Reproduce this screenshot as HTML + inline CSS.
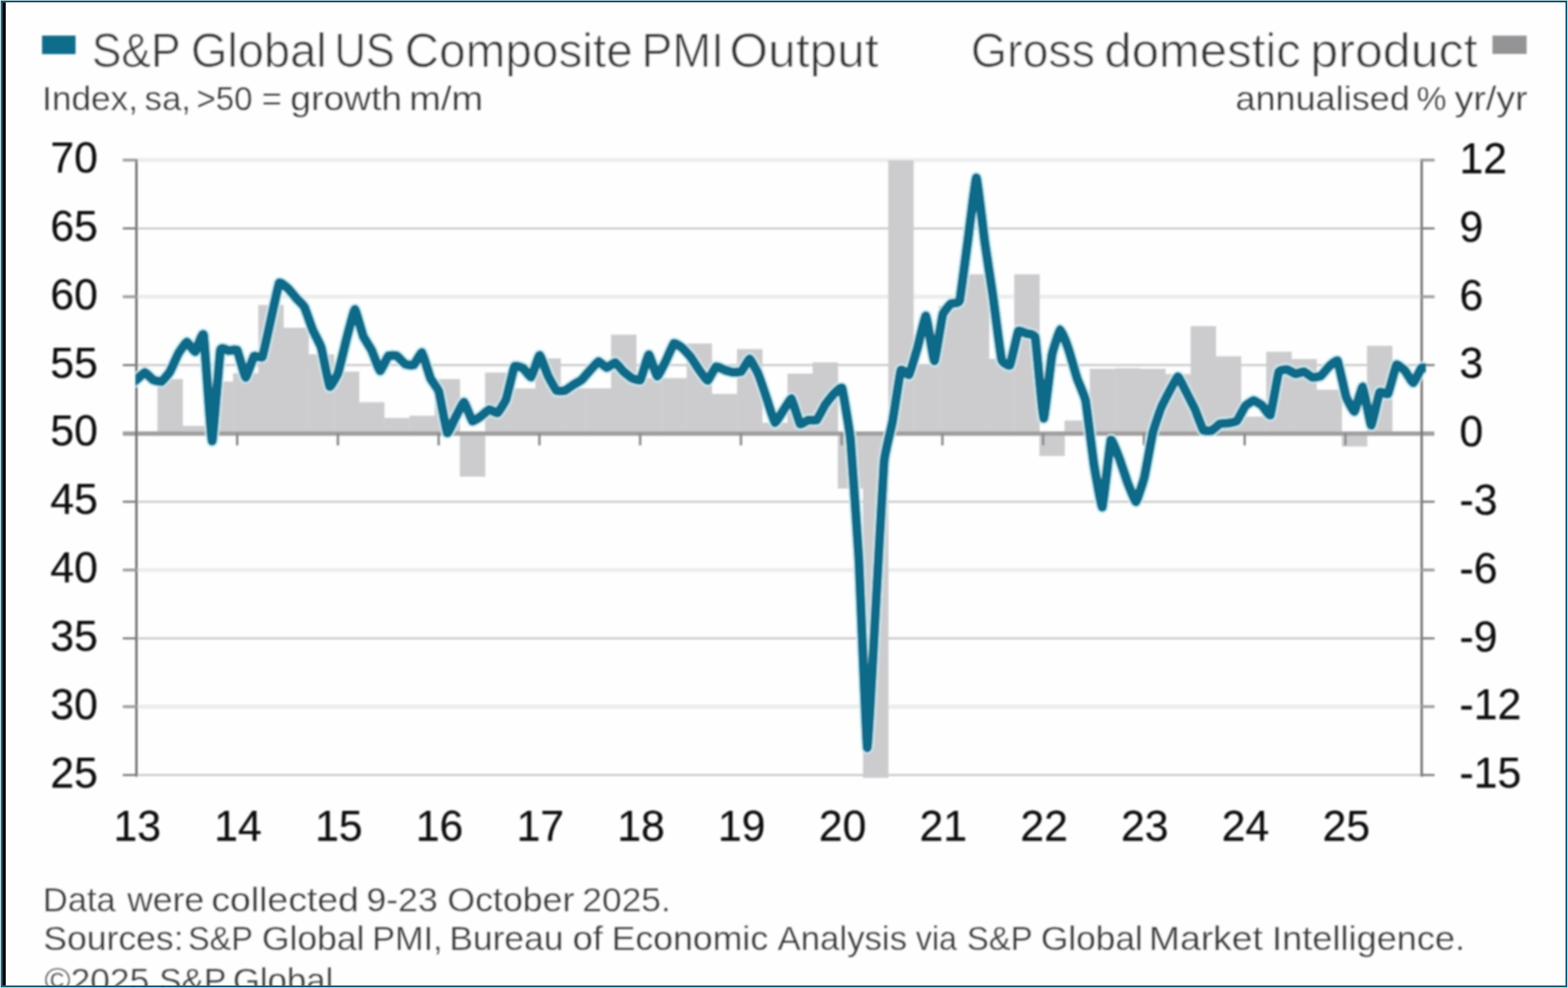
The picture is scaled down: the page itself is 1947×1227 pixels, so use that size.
<!DOCTYPE html>
<html lang="en"><head><meta charset="utf-8"><title>S&amp;P Global US Composite PMI Output</title>
<style>
html,body{margin:0;padding:0;background:#fff;}
body{width:1947px;height:1227px;overflow:hidden;}
svg{display:block;}
text{font-family:"Liberation Sans",Arial,Helvetica,sans-serif;}
.t1{font-size:56px;fill:#303030;stroke:#fefefe;stroke-width:0.7px;}
.t2{font-size:40.5px;fill:#303030;stroke:#fefefe;stroke-width:0.3px;}
.ax{font-size:53px;fill:#101010;stroke:#101010;stroke-width:0.25px;}
</style></head><body>
<svg width="1947" height="1227" viewBox="0 0 1947 1227">
<defs><filter id="b" x="-2%" y="-2%" width="104%" height="104%"><feGaussianBlur stdDeviation="0.9"/></filter><filter id="b2" x="0" y="0" width="100%" height="100%"><feGaussianBlur stdDeviation="0.45"/></filter></defs>
<rect x="0" y="0" width="1947" height="1227" fill="#fff"/>
<g filter="url(#b2)">
<rect x="0" y="0" width="1947" height="1227" fill="#cfeef5"/>
<rect x="1.1" y="0.9" width="1944.9" height="1225.3" fill="#245e7a"/>
<rect x="1.1" y="0.9" width="1944.9" height="2.0" fill="#1b4b64"/>
<rect x="3.1" y="2.9" width="1940.7" height="1221" fill="#fefefe"/>
<rect x="3.1" y="2.9" width="4.1" height="1221" fill="#00040a"/>
</g>
<g filter="url(#b)">
<rect x="52.2" y="44.2" width="41.6" height="23.0" fill="#096d8b"/>
<rect x="1853.2" y="44.2" width="42.4" height="22.8" fill="#949496"/>
<rect x="169.4" y="196.3" width="1595.9" height="5" fill="#ededed"/>
<rect x="169.4" y="282.4" width="1595.9" height="2.6" fill="#cacaca"/>
<rect x="169.4" y="366.0" width="1595.9" height="5" fill="#ededed"/>
<rect x="169.4" y="452.1" width="1595.9" height="2.6" fill="#cacaca"/>
<rect x="169.4" y="621.8" width="1595.9" height="2.6" fill="#cacaca"/>
<rect x="169.4" y="705.4" width="1595.9" height="5" fill="#ededed"/>
<rect x="169.4" y="791.5" width="1595.9" height="2.6" fill="#cacaca"/>
<rect x="169.4" y="875.1" width="1595.9" height="5" fill="#ededed"/>
<rect x="169.4" y="961.2" width="1595.9" height="2.6" fill="#cacaca"/>
<g fill="#cccccf">
<rect x="195.5" y="470.7" width="31.6" height="67.5"/>
<rect x="226.8" y="528.9" width="31.6" height="9.3"/>
<rect x="258.1" y="473.8" width="31.6" height="64.4"/>
<rect x="289.4" y="463.5" width="31.6" height="74.7"/>
<rect x="320.7" y="378.7" width="31.6" height="159.5"/>
<rect x="351.9" y="407.0" width="31.6" height="131.2"/>
<rect x="383.2" y="440.0" width="31.6" height="98.2"/>
<rect x="414.5" y="461.5" width="31.6" height="76.7"/>
<rect x="445.8" y="499.5" width="31.6" height="38.7"/>
<rect x="477.1" y="519.0" width="31.6" height="19.2"/>
<rect x="508.4" y="516.3" width="31.6" height="21.9"/>
<rect x="539.7" y="470.7" width="31.6" height="67.5"/>
<rect x="571.0" y="538.2" width="31.6" height="53.8"/>
<rect x="602.3" y="462.7" width="31.6" height="75.5"/>
<rect x="633.6" y="482.4" width="31.6" height="55.8"/>
<rect x="664.8" y="445.0" width="31.6" height="93.2"/>
<rect x="696.1" y="482.2" width="31.6" height="56.0"/>
<rect x="727.4" y="482.2" width="31.6" height="56.0"/>
<rect x="758.7" y="415.6" width="31.6" height="122.6"/>
<rect x="790.0" y="469.5" width="31.6" height="68.7"/>
<rect x="821.3" y="469.5" width="31.6" height="68.7"/>
<rect x="852.6" y="426.6" width="31.6" height="111.6"/>
<rect x="883.9" y="489.2" width="31.6" height="49.0"/>
<rect x="915.2" y="433.5" width="31.6" height="104.7"/>
<rect x="946.5" y="525.0" width="31.6" height="13.2"/>
<rect x="977.8" y="464.0" width="31.6" height="74.2"/>
<rect x="1009.0" y="450.0" width="31.6" height="88.2"/>
<rect x="1040.3" y="538.2" width="31.6" height="68.5"/>
<rect x="1071.6" y="538.2" width="31.6" height="427.8"/>
<rect x="1102.9" y="199.0" width="31.6" height="339.2"/>
<rect x="1134.2" y="453.0" width="31.6" height="85.2"/>
<rect x="1165.5" y="380.0" width="31.6" height="158.2"/>
<rect x="1196.8" y="340.6" width="31.6" height="197.6"/>
<rect x="1228.1" y="445.6" width="31.6" height="92.6"/>
<rect x="1259.4" y="340.6" width="31.6" height="197.6"/>
<rect x="1290.6" y="538.2" width="31.6" height="28.1"/>
<rect x="1321.9" y="522.3" width="31.6" height="15.9"/>
<rect x="1353.2" y="458.0" width="31.6" height="80.2"/>
<rect x="1384.5" y="457.3" width="31.6" height="80.9"/>
<rect x="1415.8" y="458.0" width="31.6" height="80.2"/>
<rect x="1447.1" y="464.5" width="31.6" height="73.7"/>
<rect x="1478.4" y="405.0" width="31.6" height="133.2"/>
<rect x="1509.7" y="442.5" width="31.6" height="95.7"/>
<rect x="1541.0" y="517.4" width="31.6" height="20.8"/>
<rect x="1572.3" y="436.8" width="31.6" height="101.4"/>
<rect x="1603.5" y="445.8" width="31.6" height="92.4"/>
<rect x="1634.8" y="484.0" width="31.6" height="54.2"/>
<rect x="1666.1" y="538.2" width="31.6" height="16.3"/>
<rect x="1697.4" y="429.4" width="31.6" height="108.8"/>
</g>
<rect x="152.5" y="535.8" width="1628.5" height="5.4" fill="#a09e9e"/>
<rect x="293.0" y="538.2" width="3" height="15" fill="#8a8a8a"/>
<rect x="418.1" y="538.2" width="3" height="15" fill="#8a8a8a"/>
<rect x="543.2" y="538.2" width="3" height="15" fill="#8a8a8a"/>
<rect x="668.3" y="538.2" width="3" height="15" fill="#8a8a8a"/>
<rect x="793.4" y="538.2" width="3" height="15" fill="#8a8a8a"/>
<rect x="918.5" y="538.2" width="3" height="15" fill="#8a8a8a"/>
<rect x="1043.6" y="538.2" width="3" height="15" fill="#8a8a8a"/>
<rect x="1168.7" y="538.2" width="3" height="15" fill="#8a8a8a"/>
<rect x="1293.8" y="538.2" width="3" height="15" fill="#8a8a8a"/>
<rect x="1418.9" y="538.2" width="3" height="15" fill="#8a8a8a"/>
<rect x="1544.0" y="538.2" width="3" height="15" fill="#8a8a8a"/>
<rect x="1669.1" y="538.2" width="3" height="15" fill="#8a8a8a"/>
<rect x="167.9" y="197.5" width="3" height="767.0" fill="#727272"/>
<rect x="1763.8" y="197.5" width="3" height="767.0" fill="#767676"/>
<rect x="152.5" y="197.0" width="17" height="3.6" fill="#a0a0a0"/>
<rect x="1765.3" y="197.0" width="16" height="3.6" fill="#a0a0a0"/>
<rect x="152.5" y="282.4" width="17" height="2.6" fill="#7c7c7c"/>
<rect x="1765.3" y="282.4" width="16" height="2.6" fill="#7c7c7c"/>
<rect x="152.5" y="366.7" width="17" height="3.6" fill="#a0a0a0"/>
<rect x="1765.3" y="366.7" width="16" height="3.6" fill="#a0a0a0"/>
<rect x="152.5" y="452.1" width="17" height="2.6" fill="#7c7c7c"/>
<rect x="1765.3" y="452.1" width="16" height="2.6" fill="#7c7c7c"/>
<rect x="152.5" y="621.8" width="17" height="2.6" fill="#7c7c7c"/>
<rect x="1765.3" y="621.8" width="16" height="2.6" fill="#7c7c7c"/>
<rect x="152.5" y="706.1" width="17" height="3.6" fill="#a0a0a0"/>
<rect x="1765.3" y="706.1" width="16" height="3.6" fill="#a0a0a0"/>
<rect x="152.5" y="791.5" width="17" height="2.6" fill="#7c7c7c"/>
<rect x="1765.3" y="791.5" width="16" height="2.6" fill="#7c7c7c"/>
<rect x="152.5" y="875.8" width="17" height="3.6" fill="#a0a0a0"/>
<rect x="1765.3" y="875.8" width="16" height="3.6" fill="#a0a0a0"/>
<rect x="152.5" y="961.2" width="17" height="2.6" fill="#7c7c7c"/>
<rect x="1765.3" y="961.2" width="16" height="2.6" fill="#7c7c7c"/>
<clipPath id="lc"><rect x="168.2" y="150" width="1602.3" height="850"/></clipPath>
<path clip-path="url(#lc)" d="M163.4 475.8 C163.7 475.6 168.6 472.5 169.4 471.8 C170.2 471.1 178.8 462.5 179.8 462.5 C180.9 462.5 189.2 471.2 190.3 471.8 C191.3 472.4 199.6 474.3 200.7 473.8 C201.7 473.3 210.1 463.2 211.1 461.5 C212.2 459.8 220.5 440.7 221.6 438.9 C222.6 437.1 230.9 424.9 232.0 424.8 C233.0 424.7 241.4 437.2 242.4 436.8 C243.5 436.4 251.8 410.4 252.8 416.0 C253.9 421.6 262.2 546.8 263.3 547.8 C264.3 548.8 272.7 440.6 273.7 435.0 C274.7 429.4 283.1 435.6 284.1 435.6 C285.2 435.6 293.5 433.4 294.6 435.0 C295.6 436.6 303.9 468.2 305.0 468.6 C306.0 469.0 314.4 443.8 315.4 442.5 C316.5 441.2 324.8 445.3 325.9 443.0 C326.9 440.7 335.2 401.6 336.3 397.0 C337.3 392.4 345.7 353.6 346.7 351.6 C347.8 349.6 356.1 356.8 357.1 357.7 C358.2 358.6 366.5 368.8 367.6 370.0 C368.6 371.2 377.0 379.4 378.0 381.4 C379.0 383.4 387.4 407.5 388.4 410.0 C389.5 412.5 397.8 428.2 398.9 431.7 C399.9 435.2 408.2 478.4 409.3 480.0 C410.3 481.6 418.7 466.4 419.7 463.5 C420.8 460.6 429.1 425.5 430.1 421.5 C431.2 417.5 439.5 384.5 440.6 384.3 C441.6 384.1 450.0 415.0 451.0 417.5 C452.1 420.0 460.4 432.7 461.4 434.8 C462.5 436.9 470.8 460.1 471.9 460.5 C472.9 460.9 481.3 442.9 482.3 442.0 C483.3 441.1 491.7 441.5 492.7 442.0 C493.8 442.5 502.1 451.6 503.2 452.2 C504.2 452.8 512.5 454.0 513.6 453.3 C514.6 452.6 523.0 437.1 524.0 437.9 C525.1 438.7 533.4 467.3 534.5 469.7 C535.5 472.1 543.8 482.6 544.9 486.0 C545.9 489.4 554.3 535.9 555.3 537.5 C556.4 539.1 564.7 519.9 565.7 518.0 C566.8 516.1 575.1 499.2 576.2 499.5 C577.2 499.8 585.6 522.1 586.6 523.0 C587.6 523.9 596.0 517.7 597.0 517.0 C598.1 516.3 606.4 508.9 607.5 508.7 C608.5 508.5 616.8 513.4 617.9 512.8 C618.9 512.2 627.3 499.1 628.3 496.2 C629.4 493.3 637.7 457.3 638.8 455.3 C639.8 453.3 648.1 456.4 649.2 457.0 C650.2 457.6 658.6 469.0 659.6 468.2 C660.7 467.4 669.0 441.4 670.0 441.3 C671.1 441.2 679.4 464.4 680.5 466.6 C681.5 468.8 689.9 484.2 690.9 485.1 C691.9 486.0 700.3 485.5 701.3 485.1 C702.4 484.7 710.7 478.7 711.8 478.0 C712.8 477.3 721.1 472.7 722.2 471.8 C723.2 470.9 731.6 461.1 732.6 460.0 C733.7 458.9 742.0 449.2 743.0 449.0 C744.1 448.8 752.4 456.5 753.5 456.6 C754.5 456.7 762.9 450.0 763.9 450.2 C765.0 450.4 773.3 460.5 774.3 461.5 C775.4 462.5 783.7 469.2 784.8 469.7 C785.8 470.2 794.2 473.3 795.2 471.8 C796.2 470.3 804.6 440.7 805.6 440.5 C806.7 440.3 815.0 466.9 816.1 467.3 C817.1 467.7 825.4 450.9 826.5 448.8 C827.5 446.8 835.9 427.1 836.9 426.3 C838.0 425.5 846.3 431.3 847.3 432.2 C848.4 433.1 856.7 442.1 857.8 443.5 C858.8 444.9 867.2 458.0 868.2 459.5 C869.3 461.0 877.6 472.8 878.6 472.6 C879.7 472.4 888.0 456.0 889.1 455.3 C890.1 454.6 898.5 459.0 899.5 459.4 C900.5 459.8 908.9 462.2 909.9 462.3 C911.0 462.4 919.3 462.3 920.4 461.5 C921.4 460.7 929.7 445.7 930.8 445.8 C931.8 445.9 940.2 461.6 941.2 464.0 C942.3 466.4 950.6 490.6 951.6 493.6 C952.7 496.6 961.0 524.1 962.1 524.9 C963.1 525.7 971.5 511.5 972.5 510.0 C973.6 508.5 981.9 494.4 982.9 495.2 C984.0 496.0 992.3 525.2 993.4 526.5 C994.4 527.8 1002.8 521.8 1003.8 521.6 C1004.8 521.4 1013.2 522.6 1014.2 521.6 C1015.3 520.6 1023.6 504.2 1024.7 502.6 C1025.7 501.0 1034.0 490.5 1035.1 489.5 C1036.1 488.5 1044.5 479.4 1045.5 482.2 C1046.6 485.0 1054.9 534.5 1056.0 545.0 C1057.0 555.5 1065.3 673.5 1066.4 692.6 C1067.4 711.8 1075.8 925.2 1076.8 928.5 C1077.9 931.8 1086.2 776.5 1087.2 758.8 C1088.3 741.1 1096.6 585.5 1097.7 573.8 C1098.7 562.1 1107.1 530.3 1108.1 524.6 C1109.1 518.9 1117.5 463.1 1118.5 460.1 C1119.6 457.2 1127.9 466.7 1129.0 465.2 C1130.0 463.8 1138.3 434.9 1139.4 431.3 C1140.4 427.6 1148.8 391.4 1149.8 392.3 C1150.9 393.1 1159.2 448.3 1160.2 448.3 C1161.3 448.2 1169.6 394.1 1170.7 390.6 C1171.7 387.0 1180.1 377.8 1181.1 377.0 C1182.2 376.1 1190.5 377.6 1191.5 373.6 C1192.6 369.6 1200.9 304.9 1202.0 297.2 C1203.0 289.6 1211.4 220.7 1212.4 220.9 C1213.4 221.0 1221.8 293.2 1222.8 300.6 C1223.9 308.1 1232.2 362.9 1233.3 370.2 C1234.3 377.5 1242.6 442.4 1243.7 446.6 C1244.7 450.7 1253.1 455.1 1254.1 453.4 C1255.2 451.6 1263.5 413.4 1264.5 411.4 C1265.6 409.5 1273.9 413.9 1275.0 414.3 C1276.0 414.7 1284.4 414.1 1285.4 419.4 C1286.5 424.7 1294.8 518.5 1295.8 519.5 C1296.9 520.6 1305.2 446.1 1306.3 440.6 C1307.3 435.1 1315.7 409.5 1316.7 409.2 C1317.7 408.9 1326.1 431.6 1327.1 434.7 C1328.2 437.7 1336.5 467.2 1337.6 470.3 C1338.6 473.5 1346.9 492.1 1348.0 497.5 C1349.0 502.8 1357.4 570.6 1358.4 577.2 C1359.5 583.8 1367.8 631.4 1368.9 629.8 C1369.9 628.3 1378.2 549.7 1379.3 546.7 C1380.3 543.6 1388.7 566.1 1389.7 568.7 C1390.8 571.4 1399.1 596.6 1400.1 599.3 C1401.2 602.0 1409.5 623.4 1410.6 623.1 C1411.6 622.7 1420.0 596.8 1421.0 592.5 C1422.0 588.2 1430.4 541.7 1431.4 537.4 C1432.5 533.0 1440.8 508.5 1441.9 506.0 C1442.9 503.4 1451.2 487.5 1452.3 485.6 C1453.3 483.7 1461.7 467.7 1462.7 467.8 C1463.8 467.9 1472.1 485.3 1473.2 487.3 C1474.2 489.3 1482.5 505.3 1483.6 507.7 C1484.6 510.0 1493.0 532.6 1494.0 534.0 C1495.1 535.3 1503.4 535.2 1504.4 534.8 C1505.5 534.4 1513.8 526.8 1514.9 526.3 C1515.9 525.9 1524.3 525.6 1525.3 525.5 C1526.3 525.3 1534.7 524.0 1535.7 522.9 C1536.8 521.9 1545.1 505.5 1546.2 504.3 C1547.2 503.0 1555.5 497.5 1556.6 497.5 C1557.6 497.4 1566.0 502.5 1567.0 503.4 C1568.1 504.3 1576.4 517.4 1577.5 515.3 C1578.5 513.2 1586.8 464.7 1587.9 461.8 C1588.9 459.0 1597.3 458.8 1598.3 459.0 C1599.4 459.1 1607.7 464.3 1608.7 464.4 C1609.8 464.5 1618.1 461.3 1619.2 461.5 C1620.2 461.7 1628.6 468.4 1629.6 468.6 C1630.6 468.9 1639.0 467.6 1640.0 466.9 C1641.1 466.2 1649.4 456.0 1650.5 455.0 C1651.5 454.1 1659.8 446.4 1660.9 448.3 C1661.9 450.1 1670.3 489.2 1671.3 492.4 C1672.4 495.5 1680.7 511.6 1681.8 511.0 C1682.8 510.5 1691.1 479.7 1692.2 480.5 C1693.2 481.4 1701.6 527.7 1702.6 528.0 C1703.7 528.4 1712.0 489.2 1713.0 487.3 C1714.1 485.3 1722.4 490.7 1723.5 489.0 C1724.5 487.3 1732.9 454.8 1733.9 453.4 C1734.9 451.9 1743.3 459.0 1744.3 460.1 C1745.4 461.2 1753.7 475.6 1754.8 475.4 C1755.8 475.2 1764.3 457.7 1765.2 456.7 C1766.1 455.8 1772.8 457.2 1773.2 457.2" fill="none" stroke="#c9f3fb" stroke-opacity="0.85" stroke-width="15.6" stroke-linejoin="round" stroke-linecap="butt"/>
<path clip-path="url(#lc)" d="M163.4 475.8 C163.7 475.6 168.6 472.5 169.4 471.8 C170.2 471.1 178.8 462.5 179.8 462.5 C180.9 462.5 189.2 471.2 190.3 471.8 C191.3 472.4 199.6 474.3 200.7 473.8 C201.7 473.3 210.1 463.2 211.1 461.5 C212.2 459.8 220.5 440.7 221.6 438.9 C222.6 437.1 230.9 424.9 232.0 424.8 C233.0 424.7 241.4 437.2 242.4 436.8 C243.5 436.4 251.8 410.4 252.8 416.0 C253.9 421.6 262.2 546.8 263.3 547.8 C264.3 548.8 272.7 440.6 273.7 435.0 C274.7 429.4 283.1 435.6 284.1 435.6 C285.2 435.6 293.5 433.4 294.6 435.0 C295.6 436.6 303.9 468.2 305.0 468.6 C306.0 469.0 314.4 443.8 315.4 442.5 C316.5 441.2 324.8 445.3 325.9 443.0 C326.9 440.7 335.2 401.6 336.3 397.0 C337.3 392.4 345.7 353.6 346.7 351.6 C347.8 349.6 356.1 356.8 357.1 357.7 C358.2 358.6 366.5 368.8 367.6 370.0 C368.6 371.2 377.0 379.4 378.0 381.4 C379.0 383.4 387.4 407.5 388.4 410.0 C389.5 412.5 397.8 428.2 398.9 431.7 C399.9 435.2 408.2 478.4 409.3 480.0 C410.3 481.6 418.7 466.4 419.7 463.5 C420.8 460.6 429.1 425.5 430.1 421.5 C431.2 417.5 439.5 384.5 440.6 384.3 C441.6 384.1 450.0 415.0 451.0 417.5 C452.1 420.0 460.4 432.7 461.4 434.8 C462.5 436.9 470.8 460.1 471.9 460.5 C472.9 460.9 481.3 442.9 482.3 442.0 C483.3 441.1 491.7 441.5 492.7 442.0 C493.8 442.5 502.1 451.6 503.2 452.2 C504.2 452.8 512.5 454.0 513.6 453.3 C514.6 452.6 523.0 437.1 524.0 437.9 C525.1 438.7 533.4 467.3 534.5 469.7 C535.5 472.1 543.8 482.6 544.9 486.0 C545.9 489.4 554.3 535.9 555.3 537.5 C556.4 539.1 564.7 519.9 565.7 518.0 C566.8 516.1 575.1 499.2 576.2 499.5 C577.2 499.8 585.6 522.1 586.6 523.0 C587.6 523.9 596.0 517.7 597.0 517.0 C598.1 516.3 606.4 508.9 607.5 508.7 C608.5 508.5 616.8 513.4 617.9 512.8 C618.9 512.2 627.3 499.1 628.3 496.2 C629.4 493.3 637.7 457.3 638.8 455.3 C639.8 453.3 648.1 456.4 649.2 457.0 C650.2 457.6 658.6 469.0 659.6 468.2 C660.7 467.4 669.0 441.4 670.0 441.3 C671.1 441.2 679.4 464.4 680.5 466.6 C681.5 468.8 689.9 484.2 690.9 485.1 C691.9 486.0 700.3 485.5 701.3 485.1 C702.4 484.7 710.7 478.7 711.8 478.0 C712.8 477.3 721.1 472.7 722.2 471.8 C723.2 470.9 731.6 461.1 732.6 460.0 C733.7 458.9 742.0 449.2 743.0 449.0 C744.1 448.8 752.4 456.5 753.5 456.6 C754.5 456.7 762.9 450.0 763.9 450.2 C765.0 450.4 773.3 460.5 774.3 461.5 C775.4 462.5 783.7 469.2 784.8 469.7 C785.8 470.2 794.2 473.3 795.2 471.8 C796.2 470.3 804.6 440.7 805.6 440.5 C806.7 440.3 815.0 466.9 816.1 467.3 C817.1 467.7 825.4 450.9 826.5 448.8 C827.5 446.8 835.9 427.1 836.9 426.3 C838.0 425.5 846.3 431.3 847.3 432.2 C848.4 433.1 856.7 442.1 857.8 443.5 C858.8 444.9 867.2 458.0 868.2 459.5 C869.3 461.0 877.6 472.8 878.6 472.6 C879.7 472.4 888.0 456.0 889.1 455.3 C890.1 454.6 898.5 459.0 899.5 459.4 C900.5 459.8 908.9 462.2 909.9 462.3 C911.0 462.4 919.3 462.3 920.4 461.5 C921.4 460.7 929.7 445.7 930.8 445.8 C931.8 445.9 940.2 461.6 941.2 464.0 C942.3 466.4 950.6 490.6 951.6 493.6 C952.7 496.6 961.0 524.1 962.1 524.9 C963.1 525.7 971.5 511.5 972.5 510.0 C973.6 508.5 981.9 494.4 982.9 495.2 C984.0 496.0 992.3 525.2 993.4 526.5 C994.4 527.8 1002.8 521.8 1003.8 521.6 C1004.8 521.4 1013.2 522.6 1014.2 521.6 C1015.3 520.6 1023.6 504.2 1024.7 502.6 C1025.7 501.0 1034.0 490.5 1035.1 489.5 C1036.1 488.5 1044.5 479.4 1045.5 482.2 C1046.6 485.0 1054.9 534.5 1056.0 545.0 C1057.0 555.5 1065.3 673.5 1066.4 692.6 C1067.4 711.8 1075.8 925.2 1076.8 928.5 C1077.9 931.8 1086.2 776.5 1087.2 758.8 C1088.3 741.1 1096.6 585.5 1097.7 573.8 C1098.7 562.1 1107.1 530.3 1108.1 524.6 C1109.1 518.9 1117.5 463.1 1118.5 460.1 C1119.6 457.2 1127.9 466.7 1129.0 465.2 C1130.0 463.8 1138.3 434.9 1139.4 431.3 C1140.4 427.6 1148.8 391.4 1149.8 392.3 C1150.9 393.1 1159.2 448.3 1160.2 448.3 C1161.3 448.2 1169.6 394.1 1170.7 390.6 C1171.7 387.0 1180.1 377.8 1181.1 377.0 C1182.2 376.1 1190.5 377.6 1191.5 373.6 C1192.6 369.6 1200.9 304.9 1202.0 297.2 C1203.0 289.6 1211.4 220.7 1212.4 220.9 C1213.4 221.0 1221.8 293.2 1222.8 300.6 C1223.9 308.1 1232.2 362.9 1233.3 370.2 C1234.3 377.5 1242.6 442.4 1243.7 446.6 C1244.7 450.7 1253.1 455.1 1254.1 453.4 C1255.2 451.6 1263.5 413.4 1264.5 411.4 C1265.6 409.5 1273.9 413.9 1275.0 414.3 C1276.0 414.7 1284.4 414.1 1285.4 419.4 C1286.5 424.7 1294.8 518.5 1295.8 519.5 C1296.9 520.6 1305.2 446.1 1306.3 440.6 C1307.3 435.1 1315.7 409.5 1316.7 409.2 C1317.7 408.9 1326.1 431.6 1327.1 434.7 C1328.2 437.7 1336.5 467.2 1337.6 470.3 C1338.6 473.5 1346.9 492.1 1348.0 497.5 C1349.0 502.8 1357.4 570.6 1358.4 577.2 C1359.5 583.8 1367.8 631.4 1368.9 629.8 C1369.9 628.3 1378.2 549.7 1379.3 546.7 C1380.3 543.6 1388.7 566.1 1389.7 568.7 C1390.8 571.4 1399.1 596.6 1400.1 599.3 C1401.2 602.0 1409.5 623.4 1410.6 623.1 C1411.6 622.7 1420.0 596.8 1421.0 592.5 C1422.0 588.2 1430.4 541.7 1431.4 537.4 C1432.5 533.0 1440.8 508.5 1441.9 506.0 C1442.9 503.4 1451.2 487.5 1452.3 485.6 C1453.3 483.7 1461.7 467.7 1462.7 467.8 C1463.8 467.9 1472.1 485.3 1473.2 487.3 C1474.2 489.3 1482.5 505.3 1483.6 507.7 C1484.6 510.0 1493.0 532.6 1494.0 534.0 C1495.1 535.3 1503.4 535.2 1504.4 534.8 C1505.5 534.4 1513.8 526.8 1514.9 526.3 C1515.9 525.9 1524.3 525.6 1525.3 525.5 C1526.3 525.3 1534.7 524.0 1535.7 522.9 C1536.8 521.9 1545.1 505.5 1546.2 504.3 C1547.2 503.0 1555.5 497.5 1556.6 497.5 C1557.6 497.4 1566.0 502.5 1567.0 503.4 C1568.1 504.3 1576.4 517.4 1577.5 515.3 C1578.5 513.2 1586.8 464.7 1587.9 461.8 C1588.9 459.0 1597.3 458.8 1598.3 459.0 C1599.4 459.1 1607.7 464.3 1608.7 464.4 C1609.8 464.5 1618.1 461.3 1619.2 461.5 C1620.2 461.7 1628.6 468.4 1629.6 468.6 C1630.6 468.9 1639.0 467.6 1640.0 466.9 C1641.1 466.2 1649.4 456.0 1650.5 455.0 C1651.5 454.1 1659.8 446.4 1660.9 448.3 C1661.9 450.1 1670.3 489.2 1671.3 492.4 C1672.4 495.5 1680.7 511.6 1681.8 511.0 C1682.8 510.5 1691.1 479.7 1692.2 480.5 C1693.2 481.4 1701.6 527.7 1702.6 528.0 C1703.7 528.4 1712.0 489.2 1713.0 487.3 C1714.1 485.3 1722.4 490.7 1723.5 489.0 C1724.5 487.3 1732.9 454.8 1733.9 453.4 C1734.9 451.9 1743.3 459.0 1744.3 460.1 C1745.4 461.2 1753.7 475.6 1754.8 475.4 C1755.8 475.2 1764.3 457.7 1765.2 456.7 C1766.1 455.8 1772.8 457.2 1773.2 457.2" fill="none" stroke="#086b88" stroke-width="11.4" stroke-linejoin="round" stroke-linecap="butt"/>
<text class="ax" x="121.5" y="214.0" text-anchor="end">70</text>
<text class="ax" x="121.5" y="298.9" text-anchor="end">65</text>
<text class="ax" x="121.5" y="383.7" text-anchor="end">60</text>
<text class="ax" x="121.5" y="468.6" text-anchor="end">55</text>
<text class="ax" x="121.5" y="553.4" text-anchor="end">50</text>
<text class="ax" x="121.5" y="638.3" text-anchor="end">45</text>
<text class="ax" x="121.5" y="723.1" text-anchor="end">40</text>
<text class="ax" x="121.5" y="808.0" text-anchor="end">35</text>
<text class="ax" x="121.5" y="892.8" text-anchor="end">30</text>
<text class="ax" x="121.5" y="977.7" text-anchor="end">25</text>
<text class="ax" x="1812.3" y="215.0">12</text>
<text class="ax" x="1812.3" y="299.8">9</text>
<text class="ax" x="1812.3" y="384.6">6</text>
<text class="ax" x="1812.3" y="469.4">3</text>
<text class="ax" x="1812.3" y="554.2">0</text>
<text class="ax" x="1812.3" y="639.0">-3</text>
<text class="ax" x="1812.3" y="723.8">-6</text>
<text class="ax" x="1812.3" y="808.6">-9</text>
<text class="ax" x="1812.3" y="893.4">-12</text>
<text class="ax" x="1812.3" y="978.2">-15</text>
<text class="ax" x="170.5" y="1044.3" text-anchor="middle">13</text>
<text class="ax" x="295.6" y="1044.3" text-anchor="middle">14</text>
<text class="ax" x="420.7" y="1044.3" text-anchor="middle">15</text>
<text class="ax" x="545.8" y="1044.3" text-anchor="middle">16</text>
<text class="ax" x="670.9" y="1044.3" text-anchor="middle">17</text>
<text class="ax" x="796.0" y="1044.3" text-anchor="middle">18</text>
<text class="ax" x="921.1" y="1044.3" text-anchor="middle">19</text>
<text class="ax" x="1046.2" y="1044.3" text-anchor="middle">20</text>
<text class="ax" x="1171.3" y="1044.3" text-anchor="middle">21</text>
<text class="ax" x="1296.4" y="1044.3" text-anchor="middle">22</text>
<text class="ax" x="1421.5" y="1044.3" text-anchor="middle">23</text>
<text class="ax" x="1546.6" y="1044.3" text-anchor="middle">24</text>
<text class="ax" x="1671.7" y="1044.3" text-anchor="middle">25</text>
<text class="t1" y="83.2" style="font-size:59.0px"><tspan x="113.9" textLength="109.3" lengthAdjust="spacingAndGlyphs">S&amp;P</tspan> <tspan x="236.9" textLength="168.8" lengthAdjust="spacingAndGlyphs">Global</tspan> <tspan x="415.2" textLength="75.1" lengthAdjust="spacingAndGlyphs">US</tspan> <tspan x="502.6" textLength="283.0" lengthAdjust="spacingAndGlyphs">Composite</tspan> <tspan x="796.5" textLength="102.4" lengthAdjust="spacingAndGlyphs">PMI</tspan> <tspan x="905.8" textLength="185.3" lengthAdjust="spacingAndGlyphs">Output</tspan></text>
<text class="t1" y="83.2" style="font-size:59.0px"><tspan x="1205.6" textLength="154.0" lengthAdjust="spacingAndGlyphs">Gross</tspan> <tspan x="1371.3" textLength="243.9" lengthAdjust="spacingAndGlyphs">domestic</tspan> <tspan x="1627.0" textLength="207.8" lengthAdjust="spacingAndGlyphs">product</tspan></text>
<text class="t2" y="137.1" style="font-size:43.0px"><tspan x="52.3" textLength="119.0" lengthAdjust="spacingAndGlyphs">Index,</tspan> <tspan x="179.6" textLength="57.5" lengthAdjust="spacingAndGlyphs">sa,</tspan> <tspan x="244.1" textLength="69.3" lengthAdjust="spacingAndGlyphs">&gt;50</tspan> <tspan x="324.9" textLength="25.0" lengthAdjust="spacingAndGlyphs">=</tspan> <tspan x="360.6" textLength="138.7" lengthAdjust="spacingAndGlyphs">growth</tspan> <tspan x="507.9" textLength="92.2" lengthAdjust="spacingAndGlyphs">m/m</tspan></text>
<text class="t2" y="137.4" style="font-size:43.0px"><tspan x="1534.0" textLength="216.6" lengthAdjust="spacingAndGlyphs">annualised</tspan> <tspan x="1759.1" textLength="37.2" lengthAdjust="spacingAndGlyphs">%</tspan> <tspan x="1806.2" textLength="90.6" lengthAdjust="spacingAndGlyphs">yr/yr</tspan></text>
<text class="t2" y="1131.7" style="font-size:43.0px"><tspan x="53.3" textLength="90.2" lengthAdjust="spacingAndGlyphs">Data</tspan> <tspan x="157.9" textLength="95.5" lengthAdjust="spacingAndGlyphs">were</tspan> <tspan x="262.4" textLength="183.3" lengthAdjust="spacingAndGlyphs">collected</tspan> <tspan x="454.9" textLength="88.7" lengthAdjust="spacingAndGlyphs">9-23</tspan> <tspan x="555.4" textLength="157.8" lengthAdjust="spacingAndGlyphs">October</tspan> <tspan x="723.1" textLength="109.8" lengthAdjust="spacingAndGlyphs">2025.</tspan></text>
<text class="t2" y="1179.7" style="font-size:43.0px"><tspan x="53.7" textLength="174.3" lengthAdjust="spacingAndGlyphs">Sources:</tspan> <tspan x="233.5" textLength="79.8" lengthAdjust="spacingAndGlyphs">S&amp;P</tspan> <tspan x="325.3" textLength="127.3" lengthAdjust="spacingAndGlyphs">Global</tspan> <tspan x="462.2" textLength="87.3" lengthAdjust="spacingAndGlyphs">PMI,</tspan> <tspan x="557.9" textLength="141.7" lengthAdjust="spacingAndGlyphs">Bureau</tspan> <tspan x="710.9" textLength="37.7" lengthAdjust="spacingAndGlyphs">of</tspan> <tspan x="759.4" textLength="194.4" lengthAdjust="spacingAndGlyphs">Economic</tspan> <tspan x="965.5" textLength="160.8" lengthAdjust="spacingAndGlyphs">Analysis</tspan> <tspan x="1137.2" textLength="51.0" lengthAdjust="spacingAndGlyphs">via</tspan> <tspan x="1200.5" textLength="81.1" lengthAdjust="spacingAndGlyphs">S&amp;P</tspan> <tspan x="1292.4" textLength="126.7" lengthAdjust="spacingAndGlyphs">Global</tspan> <tspan x="1426.6" textLength="141.5" lengthAdjust="spacingAndGlyphs">Market</tspan> <tspan x="1579.5" textLength="239.8" lengthAdjust="spacingAndGlyphs">Intelligence.</tspan></text>
<text class="t2" y="1232.0" style="font-size:43.0px"><tspan x="55.3" textLength="130.1" lengthAdjust="spacingAndGlyphs">©2025</tspan> <tspan x="197.5" textLength="82.8" lengthAdjust="spacingAndGlyphs">S&amp;P</tspan> <tspan x="289.3" textLength="124.5" lengthAdjust="spacingAndGlyphs">Global</tspan></text>
</g>
<g filter="url(#b2)">
<rect x="1.1" y="1223.9" width="1944.9" height="2.3" fill="#225c78"/>
<rect x="0" y="1226.2" width="1947" height="1" fill="#cfeef5"/>
</g>
</svg></body></html>
